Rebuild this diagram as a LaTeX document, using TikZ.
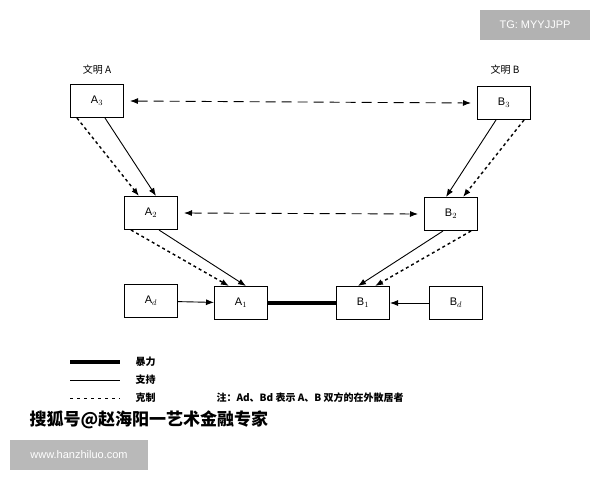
\documentclass[tikz,border=0pt]{standalone}
\usepackage{fontspec}
\setmainfont{Liberation Sans}
\newfontfamily\cjk{Noto Sans CJK SC}
\usetikzlibrary{arrows.meta, positioning}

\begin{document}
\begin{tikzpicture}[
        x=1pt, y=-1pt,
        font=\fontsize{11}{13}\selectfont,
        civ/.style={draw, line width=1pt, minimum width=53pt, minimum height=33pt, inner sep=0pt},
        support/.style={-{Latex[length=8pt,width=6pt]}, line width=0.9pt},
        restrain/.style={-{Latex[length=8pt,width=6pt]}, line width=1.4pt, dash pattern=on 3pt off 3pt},
        contact/.style={{Latex[length=8pt,width=6pt]}-{Latex[length=8pt,width=6pt]}, line width=0.9pt, dash pattern=on 10pt off 6pt},
        violence/.style={line width=4pt},
        legtext/.style={font=\cjk\bfseries\fontsize{10}{12}\selectfont, anchor=west}
    ]
    \useasboundingbox (0,0) rectangle (600,480);

    % Civilisation A
    \node[civ] (a3) at (97,101) {A$_3$};
    \node[civ] (a2) at (151,213) {A$_2$};
    \node[civ] (a1) at (241,303) {A$_1$};
    \node[civ] (ad) at (151,301) {A$_d$};
    \node[font=\cjk\fontsize{10}{12}\selectfont] (laba) at (97,70) {文明 A};

    % Civilisation B
    \node[civ] (b3) at (504,103) {B$_3$};
    \node[civ] (b2) at (451,214) {B$_2$};
    \node[civ] (b1) at (363,303) {B$_1$};
    \node[civ] (bd) at (456,303) {B$_d$};
    \node[font=\cjk\fontsize{10}{12}\selectfont] (labb) at (505,70) {文明 B};

    % Arrows
    \draw[support] ([xshift=8pt]a3.south) -- ([xshift=5pt]a2.north);
    \draw[restrain] ([xshift=-20pt]a3.south) -- ([xshift=-12pt]a2.north);
    \draw[support] ([xshift=8pt]a2.south) -- ([xshift=5pt]a1.north);
    \draw[restrain] ([xshift=-20pt]a2.south) -- ([xshift=-12pt]a1.north);
    \draw[support] ([xshift=-8pt]b3.south) -- ([xshift=-5pt]b2.north);
    \draw[restrain] ([xshift=20pt]b3.south) -- ([xshift=12pt]b2.north);
    \draw[support] ([xshift=-8pt]b2.south) -- ([xshift=-5pt]b1.north);
    \draw[restrain] ([xshift=20pt]b2.south) -- ([xshift=12pt]b1.north);
    \draw[contact] ([xshift=6pt]a3.east) -- ([xshift=-6pt]b3.west);
    \draw[contact] ([xshift=6pt]a2.east) -- ([xshift=-6pt]b2.west);
    \draw[violence] (a1) -- (b1);
    \draw[support] (ad) -- (a1);
    \draw[support] (bd) -- (b1);

    % Legend
    \draw[violence] (70,362) coordinate (l1) -- (120,362);
    \draw[semithick] (70,380) coordinate (l2) -- (120,380);
    \draw[thick, dash pattern=on 3pt off 4pt] (70,398) coordinate (l3) -- (120,398);
    \node[legtext] at (132,362) {暴力};
    \node[legtext] at (132,380) {支持};
    \node[legtext] at (132,398) {克制};
    \node[legtext] (note) at (213,398) {注：Ad、Bd 表示 A、B 双方的在外散居者};

    % Watermarks
    \node[fill=gray!60, text=white, minimum width=110pt, minimum height=30pt] (tg) at (535,25) {TG: MYYJJPP};
    \node[font=\cjk\bfseries\fontsize{17}{19}\selectfont, anchor=west] (sohu) at (26,420) {搜狐号@赵海阳一艺术金融专家};
    \node[fill=gray!55, text=white, minimum width=138pt, minimum height=30pt] (web) at (79,455) {www.hanzhiluo.com};
\end{tikzpicture}
\end{document}
